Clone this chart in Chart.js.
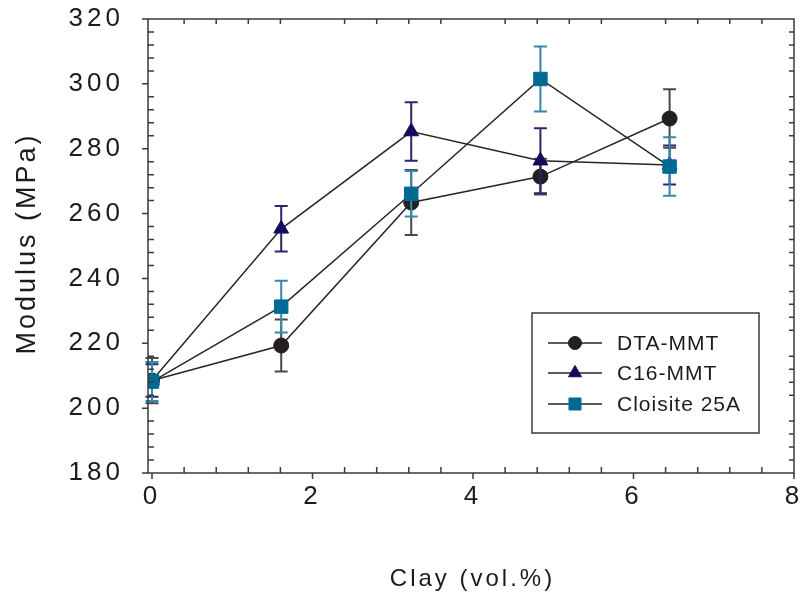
<!DOCTYPE html>
<html>
<head>
<meta charset="utf-8">
<script src="https://cdn.jsdelivr.net/npm/chart.js@4.4.1/dist/chart.umd.min.js"></script>
<style>
  html, body { margin: 0; padding: 0; background: #fff; }
</style>
</head>
<body>
<canvas id="modulusChart" width="807" height="595"></canvas>
<script>
// clay loading (vol.%) and tensile modulus (MPa) with error bars
const clayVol = [0, 1.61, 3.23, 4.84, 6.45];

const dtaModulus = [208.5, 219.3, 263.4, 271.4, 289.3];
const dtaError = [7, 8, 10, 5.5, 9];

const c16Modulus = [208.5, 255.3, 285.3, 276.3, 275];
const c16Error = [5, 7, 9, 10, 6];

const cloisiteModulus = [208.2, 231.3, 266.1, 301.5, 274.5];
const cloisiteError = [6, 8, 7, 10, 9];

const seriesNames = ['DTA-MMT', 'C16-MMT', 'Cloisite 25A'];
const xTickLabels = [0, 2, 4, 6, 8];
const yTickLabels = [180, 200, 220, 240, 260, 280, 300, 320];
const xTitle = 'Clay (vol.%)';
const yTitle = 'Modulus (MPa)';

const FONT = "'Liberation Sans', Arial, sans-serif";
const TEXT = '#1c1c1c';
const AXIS = '#3a3a3a';

const styles = [
  { shape: 'circle', color: '#231f20', bar: '#4a4a4a', radius: 7.5 },
  { shape: 'triangle', color: '#120c5c', bar: '#2c2470', radius: 8.5 },
  { shape: 'rect', color: '#006a94', bar: '#3388b0', radius: 9.5 },
];

function toPoints(ys) {
  return clayVol.map((x, i) => ({ x: x, y: ys[i] }));
}

const seriesValues = [dtaModulus, c16Modulus, cloisiteModulus];
const seriesErrors = [dtaError, c16Error, cloisiteError];

const datasets = seriesNames.map((name, i) => ({
  label: name,
  data: toPoints(seriesValues[i]),
  errors: seriesErrors[i],
  order: 2 - i,
  borderColor: '#262626',
  borderWidth: 1.5,
  pointStyle: styles[i].shape,
  pointRadius: styles[i].radius,
  pointBackgroundColor: styles[i].color,
  pointBorderColor: styles[i].color,
  pointBorderWidth: 1,
  tension: 0,
  fill: false,
}));

// vertical error bars drawn just under each series
const errorBars = {
  id: 'errorBars',
  beforeDatasetDraw(chart, args) {
    const ds = chart.data.datasets[args.index];
    const y = chart.scales.y;
    const st = styles[args.index];
    const ctx = chart.ctx;
    ctx.save();
    ctx.strokeStyle = st.bar;
    ctx.lineWidth = 2;
    args.meta.data.forEach((pt, i) => {
      const v = ds.data[i].y;
      const top = y.getPixelForValue(v + ds.errors[i]);
      const bot = y.getPixelForValue(v - ds.errors[i]);
      ctx.beginPath();
      ctx.moveTo(pt.x, top);
      ctx.lineTo(pt.x, bot);
      ctx.moveTo(pt.x - 6.5, top);
      ctx.lineTo(pt.x + 6.5, top);
      ctx.moveTo(pt.x - 6.5, bot);
      ctx.lineTo(pt.x + 6.5, bot);
      ctx.stroke();
    });
    ctx.restore();
  }
};

// box frame with outward major ticks and inward minor ticks, axis titles, legend
const frame = {
  id: 'frame',
  beforeDraw(chart) {
    chart.ctx.letterSpacing = '4px';
  },
  afterDraw(chart) {
    const { ctx, chartArea: a, scales: { x, y } } = chart;
    ctx.save();
    ctx.strokeStyle = AXIS;
    ctx.lineWidth = 1.5;
    ctx.strokeRect(a.left, a.top, a.right - a.left, a.bottom - a.top);
    ctx.beginPath();
    for (let i = 0; i <= 20; i++) {
      const px = x.getPixelForValue(i * 0.4);
      if (i % 5 === 0) {
        ctx.moveTo(px, a.bottom);
        ctx.lineTo(px, a.bottom + 6);
      } else {
        ctx.moveTo(px, a.bottom);
        ctx.lineTo(px, a.bottom - 6);
        ctx.moveTo(px, a.top);
        ctx.lineTo(px, a.top + 5);
      }
    }
    for (let v = 180; v <= 320; v += 4) {
      const py = y.getPixelForValue(v);
      if (v % 20 === 0) {
        ctx.moveTo(a.left - 6, py);
        ctx.lineTo(a.left, py);
      } else {
        ctx.moveTo(a.left, py);
        ctx.lineTo(a.left + 6, py);
        ctx.moveTo(a.right, py);
        ctx.lineTo(a.right - 5, py);
      }
    }
    ctx.stroke();

    // axis titles
    ctx.fillStyle = TEXT;
    ctx.letterSpacing = '3px';
    ctx.textAlign = 'center';
    ctx.textBaseline = 'alphabetic';
    ctx.font = '24px ' + FONT;
    ctx.fillText(xTitle, (a.left + a.right) / 2 + 1.5, 585.5);
    ctx.save();
    ctx.font = '27px ' + FONT;
    ctx.translate(35, (a.top + a.bottom) / 2 - 1);
    ctx.rotate(-Math.PI / 2);
    ctx.fillText(yTitle, 1.5, 0);
    ctx.restore();

    // legend box
    const bx = 532, by = 313, bw = 227, bh = 120;
    ctx.strokeRect(bx, by, bw, bh);
    const rows = [343, 373, 404];
    ctx.font = '21px ' + FONT;
    ctx.letterSpacing = '1px';
    ctx.textBaseline = 'middle';
    ctx.textAlign = 'left';
    seriesNames.forEach((name, i) => {
      const ry = rows[i];
      ctx.strokeStyle = '#262626';
      ctx.lineWidth = 1.5;
      ctx.beginPath();
      ctx.moveTo(548, ry);
      ctx.lineTo(602, ry);
      ctx.stroke();
      ctx.fillStyle = styles[i].color;
      ctx.strokeStyle = styles[i].color;
      ctx.lineWidth = 1;
      Chart.helpers.drawPoint(ctx, {
        pointStyle: styles[i].shape,
        radius: styles[i].radius - 1,
        rotation: 0,
        borderWidth: 1
      }, 575, ry);
      ctx.fillStyle = TEXT;
      ctx.fillText(name, 617, ry + 1);
    });
    ctx.restore();
  }
};

new Chart(document.getElementById('modulusChart'), {
  type: 'line',
  data: { datasets: datasets },
  plugins: [errorBars, frame],
  options: {
    responsive: false,
    animation: false,
    layout: { padding: { top: 19, right: 13, left: 0, bottom: 0 } },
    plugins: { legend: { display: false }, tooltip: { enabled: false } },
    scales: {
      x: {
        type: 'linear',
        min: -0.05,
        max: 8,
        afterBuildTicks: s => { s.ticks = xTickLabels.map(v => ({ value: v })); },
        afterFit: s => { s.height = 122; s.paddingLeft = 0; s.paddingRight = 0; },
        grid: { display: false, drawTicks: false },
        border: { display: false },
        ticks: { padding: 8, color: TEXT, font: { family: FONT, size: 26 } }
      },
      y: {
        min: 180,
        max: 320,
        afterBuildTicks: s => { s.ticks = yTickLabels.map(v => ({ value: v })); },
        afterFit: s => { s.width = 148; s.paddingTop = 0; s.paddingBottom = 0; },
        grid: { display: false, drawTicks: false },
        border: { display: false },
        ticks: { padding: 24, color: TEXT, font: { family: FONT, size: 26 } }
      }
    }
  }
});
</script>
</body>
</html>
